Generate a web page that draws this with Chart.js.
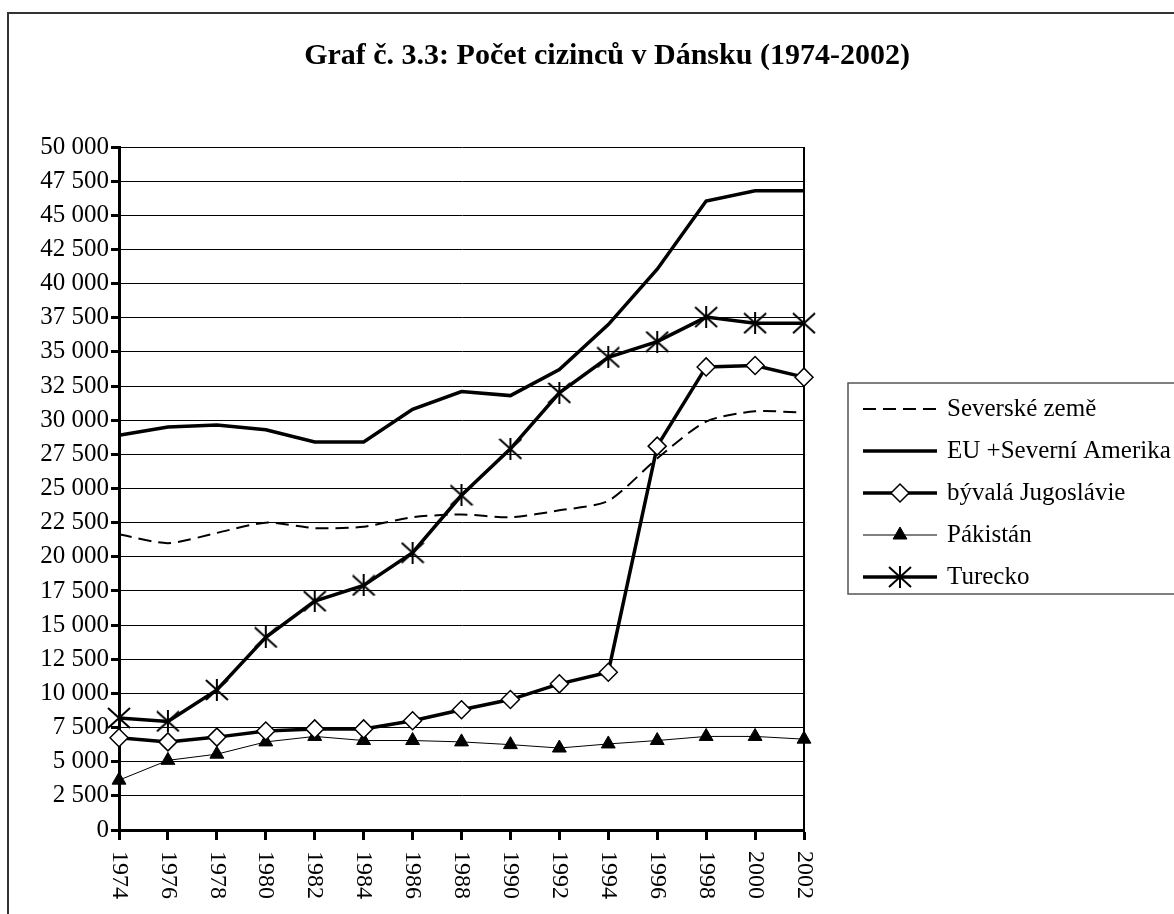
<!DOCTYPE html>
<html lang="cs">
<head>
<meta charset="utf-8">
<title>Graf č. 3.3</title>
<script src="https://cdn.jsdelivr.net/npm/chart.js@4.4.1/dist/chart.umd.min.js"></script>
<style>
  html, body { margin: 0; padding: 0; background: #fff; }
  canvas { display: block; }
</style>
</head>
<body>
<canvas id="chart" width="1174" height="914"></canvas>
<script>
// data
const years = ["1974", "1976", "1978", "1980", "1982", "1984", "1986", "1988",
               "1990", "1992", "1994", "1996", "1998", "2000", "2002"];
const severske   = [21650, 21000, 21750, 22500, 22100, 22200, 22900, 23100, 22900, 23400, 24100, 27200, 29900, 30650, 30550];
const euAmerika  = [28900, 29500, 29650, 29300, 28400, 28400, 30800, 32100, 31800, 33700, 37000, 41050, 46050, 46800, 46800];
const jugoslavie = [6750, 6450, 6800, 7250, 7400, 7400, 8000, 8800, 9550, 10700, 11550, 28100, 33900, 34000, 33150];
const pakistan   = [3650, 5100, 5550, 6450, 6850, 6550, 6550, 6450, 6250, 6000, 6300, 6550, 6850, 6850, 6650];
const turecko    = [8200, 7950, 10250, 14100, 16750, 17900, 20300, 24500, 27900, 32000, 34600, 35750, 37550, 37100, 37100];
const yMin = 0, yMax = 50000, yStep = 2500;
const titleText = "Graf č. 3.3: Počet cizinců v Dánsku (1974-2002)";

const serif = "'Liberation Serif', 'Times New Roman', serif";

function fmtThousands(v) {
  return String(v).replace(/\B(?=(\d{3})+(?!\d))/g, " ");
}

// asterisk marker: X plus a vertical stroke
function makeStar(w, h) {
  const c = document.createElement("canvas");
  c.width = w;
  c.height = h;
  const g = c.getContext("2d");
  g.strokeStyle = "#000";
  g.lineWidth = 2;
  g.beginPath();
  g.moveTo(1, 1); g.lineTo(w - 1, h - 1);
  g.moveTo(w - 1, 1); g.lineTo(1, h - 1);
  g.moveTo(w / 2, 0); g.lineTo(w / 2, h);
  g.stroke();
  return c;
}
const starMark = makeStar(24, 22);

const framePlugin = {
  id: "frame",
  beforeDraw(chart) {
    const ctx = chart.ctx;
    ctx.save();
    ctx.fillStyle = "#fff";
    ctx.fillRect(0, 0, chart.width, chart.height);
    ctx.strokeStyle = "#333";
    ctx.lineWidth = 2;
    ctx.strokeRect(8, 13, chart.width + 20, chart.height + 20);
    ctx.fillStyle = "#000";
    ctx.font = "bold 30px " + serif;
    ctx.textAlign = "center";
    ctx.textBaseline = "middle";
    ctx.fillText(titleText, 607, 56);
    ctx.restore();
  },
  beforeDatasetsDraw(chart) {
    const ctx = chart.ctx;
    const a = chart.chartArea;
    ctx.save();
    ctx.strokeStyle = "#000";
    ctx.lineWidth = 2;
    ctx.beginPath();
    ctx.moveTo(a.right, a.top);
    ctx.lineTo(a.right, a.bottom);
    ctx.stroke();
    ctx.restore();
  },
  afterDraw(chart) {
    const ctx = chart.ctx;
    const xs = chart.scales.x;
    // x tick labels, read top to bottom
    ctx.save();
    ctx.fillStyle = "#000";
    ctx.font = "24px " + serif;
    ctx.textAlign = "left";
    ctx.textBaseline = "middle";
    xs.ticks.forEach((t, i) => {
      const x = xs.getPixelForTick(i);
      ctx.save();
      ctx.translate(x, chart.chartArea.bottom + 21);
      ctx.rotate(Math.PI / 2);
      ctx.fillText(xs.getLabelForValue(t.value), 0, 0);
      ctx.restore();
    });
    ctx.restore();

    // legend
    const box = { left: 848, top: 383, bottom: 594, row0: 409, gap: 42, x0: 863, x1: 937, tx: 947 };
    ctx.save();
    ctx.strokeStyle = "#555";
    ctx.lineWidth = 1.5;
    ctx.strokeRect(box.left, box.top, chart.width, box.bottom - box.top);
    chart.data.datasets.forEach((ds, i) => {
      const y = box.row0 + i * box.gap;
      ctx.strokeStyle = "#000";
      ctx.lineWidth = ds.borderWidth;
      ctx.setLineDash(ds.borderDash || []);
      ctx.beginPath();
      ctx.moveTo(box.x0, y);
      ctx.lineTo(box.x1, y);
      ctx.stroke();
      ctx.setLineDash([]);
      if (ds.pointRadius > 0 && Chart.helpers && Chart.helpers.drawPoint) {
        ctx.fillStyle = ds.pointBackgroundColor;
        ctx.strokeStyle = ds.pointBorderColor;
        ctx.lineWidth = ds.pointBorderWidth;
        Chart.helpers.drawPoint(ctx, {
          pointStyle: ds.pointStyle, radius: ds.pointRadius,
          rotation: 0, borderWidth: ds.pointBorderWidth
        }, (box.x0 + box.x1) / 2, y);
      }
      ctx.fillStyle = "#000";
      ctx.font = "25px " + serif;
      ctx.textAlign = "left";
      ctx.textBaseline = "middle";
      ctx.fillText(ds.label, box.tx, y);
    });
    ctx.restore();
  }
};

new Chart(document.getElementById("chart"), {
  type: "line",
  data: {
    labels: years,
    datasets: [
      {
        label: "Severské země",
        data: severske,
        borderColor: "#000",
        borderWidth: 2,
        borderDash: [13, 7],
        tension: 0.25,
        pointRadius: 0
      },
      {
        label: "EU +Severní Amerika",
        data: euAmerika,
        borderColor: "#000",
        borderWidth: 3.5,
        tension: 0,
        pointRadius: 0
      },
      {
        label: "bývalá Jugoslávie",
        data: jugoslavie,
        borderColor: "#000",
        borderWidth: 3.5,
        tension: 0,
        pointStyle: "rectRot",
        pointRadius: 9,
        pointBackgroundColor: "#fff",
        pointBorderColor: "#000",
        pointBorderWidth: 1.5
      },
      {
        label: "Pákistán",
        data: pakistan,
        borderColor: "#000",
        borderWidth: 1,
        tension: 0,
        pointStyle: "triangle",
        pointRadius: 8,
        pointBackgroundColor: "#000",
        pointBorderColor: "#000",
        pointBorderWidth: 1
      },
      {
        label: "Turecko",
        data: turecko,
        borderColor: "#000",
        borderWidth: 3.5,
        tension: 0,
        pointStyle: starMark,
        pointRadius: 11,
        pointBackgroundColor: "#000",
        pointBorderColor: "#000",
        pointBorderWidth: 1.5
      }
    ]
  },
  options: {
    responsive: false,
    devicePixelRatio: 1,
    animation: false,
    layout: { padding: { top: 147, left: 0, right: 370, bottom: 0 } },
    plugins: {
      legend: { display: false },
      title: { display: false },
      tooltip: { enabled: false }
    },
    scales: {
      x: {
        offset: false,
        grid: {
          drawOnChartArea: false,
          drawTicks: true,
          tickLength: 10,
          tickWidth: 3,
          tickColor: "#000"
        },
        border: { display: true, color: "#000", width: 3 },
        ticks: { display: false, autoSkip: false },
        afterFit(scale) { scale.height = 84; }
      },
      y: {
        min: yMin,
        max: yMax,
        grid: {
          color: "#000",
          lineWidth: 1,
          tickLength: 8,
          tickWidth: 3,
          tickColor: "#000"
        },
        border: { display: true, color: "#000", width: 3 },
        ticks: {
          stepSize: yStep,
          color: "#000",
          padding: 2,
          font: { family: serif, size: 25 },
          callback: (v) => fmtThousands(v)
        },
        afterFit(scale) { scale.width = 119; }
      }
    }
  },
  plugins: [framePlugin]
});
</script>
</body>
</html>
